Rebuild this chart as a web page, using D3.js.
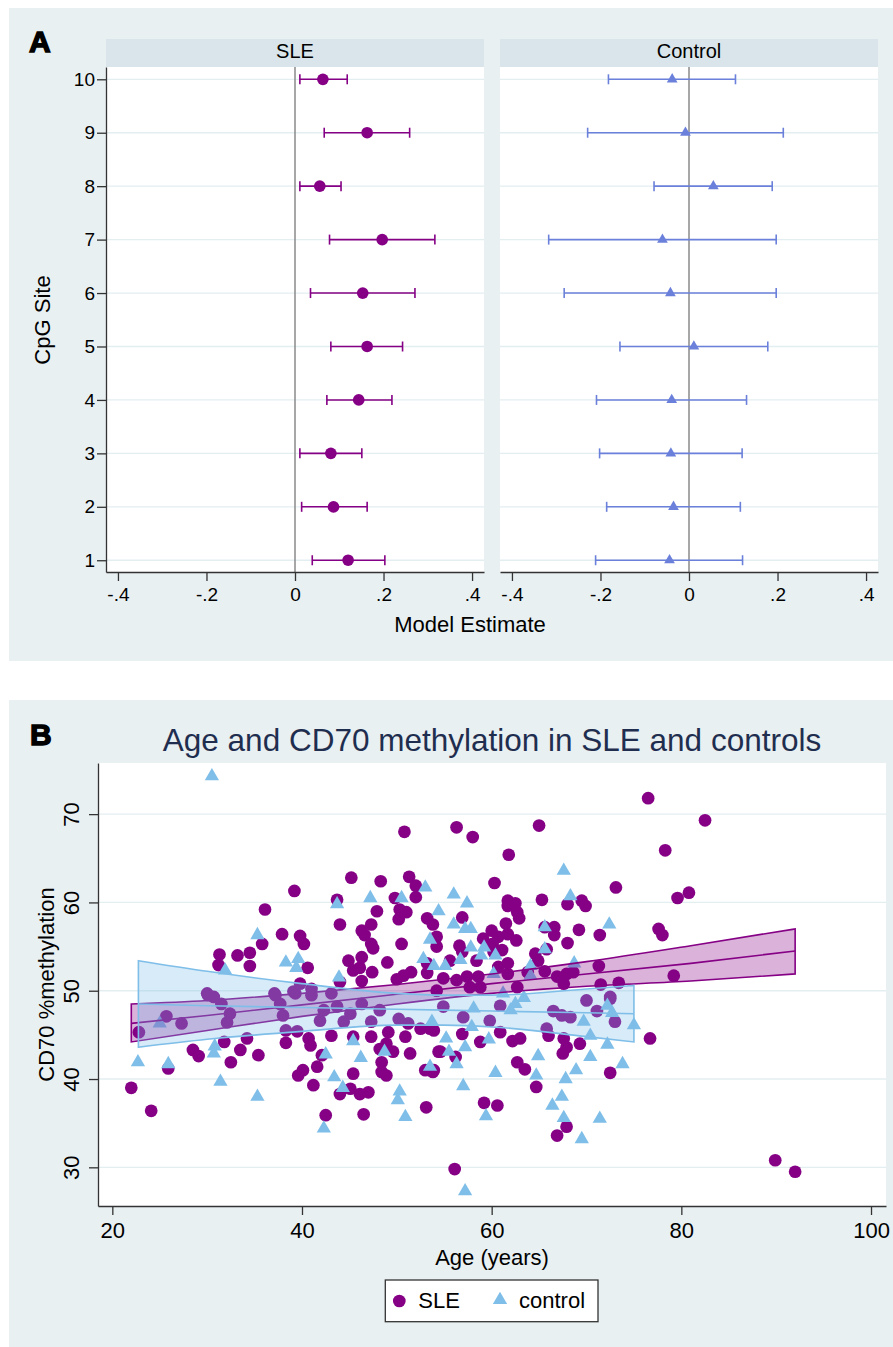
<!DOCTYPE html>
<html lang="en">
<head>
  <meta charset="UTF-8">
  <title>CD70 methylation in SLE and controls</title>
  <script src="https://cdn.jsdelivr.net/npm/d3@7"></script>
  <style>
    html, body {
      margin: 0;
      background-color: #ffffff;
    }
    svg {
      display: block;
      font-family: "Liberation Sans", Arial, Helvetica, sans-serif;
    }
  </style>
</head>
<body>
  <div id="chart"></div>
  <script>
    // panel A: model estimate per CpG site (with CI)
    const cpgSites = [1, 2, 3, 4, 5, 6, 7, 8, 9, 10]
    const sleEst = [0.120, 0.087, 0.081, 0.144, 0.163, 0.153, 0.197, 0.056, 0.163, 0.063]
    const sleLo = [0.039, 0.015, 0.011, 0.072, 0.081, 0.035, 0.078, 0.011, 0.066, 0.011]
    const sleHi = [0.203, 0.163, 0.151, 0.219, 0.243, 0.271, 0.316, 0.104, 0.259, 0.118]
    const ctrlEst = [-0.044, -0.035, -0.041, -0.039, 0.011, -0.042, -0.060, 0.055, -0.008, -0.038]
    const ctrlLo = [-0.211, -0.186, -0.202, -0.209, -0.156, -0.282, -0.317, -0.079, -0.229, -0.182]
    const ctrlHi = [0.121, 0.116, 0.120, 0.130, 0.178, 0.197, 0.197, 0.188, 0.213, 0.105]
    const estTicks = [-0.4, -0.2, 0, 0.2, 0.4]

    // panel B: age vs CD70 %methylation
    const sleAge = [22.0, 24.1, 22.8, 25.7, 25.9,
      50.8, 45.2, 48.3, 51.3, 52.0, 52.0, 49.8, 39.2, 43.7, 36.1, 47.9, 50.3, 51.0, 50.2, 44.0, 47.3, 46.3, 46.6, 53.2, 53.8,
      37.9, 39.8, 40.2, 35.8, 47.3, 47.5, 50.5, 31.3, 33.2, 34.5, 31.2, 34.5, 40.6, 44.9, 46.3, 49.0, 45.4, 46.1, 47.4, 46.3,
      50.0, 50.7, 51.5, 54.2, 54.2, 53.2, 53.2, 44.0, 39.8, 41.0, 37.1, 30.0, 30.7, 39.1,
      56.3, 58.0, 65.0, 61.8, 60.3, 73.1, 79.6, 80.8, 65.3, 61.7, 62.5, 62.7, 62.9, 61.7, 68.0, 69.5, 69.9, 56.9, 61.5, 60.0,
      65.6, 66.6, 66.6, 69.2, 71.4, 77.6, 78.0, 56.6, 59.1, 60.1, 60.7, 61.7, 62.6, 68.0, 55.6, 56.9, 60.2, 61.1, 58.4, 61.7,
      64.6, 65.8, 64.9, 65.6, 63.8, 61.7, 60.7, 57.4, 58.6, 56.3, 54.9, 71.3, 66.9, 67.9, 68.6, 67.6, 79.2, 71.5, 73.4, 72.5,
      58.8, 62.7, 57.7, 54.2,
      27.3, 28.5, 29.1, 31.8, 33.5, 34.2, 32.5, 35.4, 32.1, 32.4, 30.1, 31.5, 37.2, 37.7, 38.0, 38.3, 38.3, 39.5, 39.3, 41.0,
      40.7, 40.9, 42.1, 41.6, 40.1, 39.6, 41.2, 42.5, 41.9, 42.3, 43.1, 43.7, 45.1, 45.4, 46.3, 45.4, 45.1, 46.1, 47.0, 44.0,
      46.5, 47.3, 48.2, 48.9, 49.6, 48.4, 48.4, 48.9, 49.1, 47.3, 50.2, 50.9, 51.4, 51.2, 52.5, 53.5, 53.0, 53.9, 53.1, 54.4,
      48.2, 44.4, 43.1,
      76.7, 72.5, 64.7, 62.7, 63.5, 59.2, 60.6, 66.9, 67.9, 54.6, 56.2, 53.8, 58.8, 56.9, 60.9, 62.2, 63.0, 66.0, 67.6, 67.9,
      67.5, 69.3, 72.5, 73.0, 71.1, 70.0, 66.5, 67.4, 68.3, 65.8, 59.8, 60.9, 54.9, 53.9, 57.0,
      56.1, 89.9, 92.0, 76.5, 82.5, 78.3]
    const sleMeth = [39.0, 36.4, 45.3, 47.1, 41.2,
      68.0, 62.8, 62.4, 62.9, 61.9, 60.6, 60.5, 61.3, 60.3, 59.2, 59.0, 59.2, 58.9, 58.1, 57.5, 57.5, 56.8, 56.3, 58.2, 57.5,
      56.4, 56.2, 55.3, 55.3, 55.3, 54.8, 55.3, 54.1, 54.0, 54.3, 52.9, 52.8, 52.6, 53.4, 53.8, 53.2, 52.3, 52.6, 52.1, 51.1,
      51.3, 51.7, 52.1, 56.1, 55.0, 53.1, 52.0, 51.0, 50.8, 50.2, 49.7, 49.7, 49.3, 49.9,
      68.5, 67.4, 68.7, 65.4, 62.2, 61.7, 60.5, 61.1, 60.3, 60.2, 59.9, 58.9, 58.2, 59.6, 59.8, 60.2, 59.6, 58.3, 57.6, 56.8,
      57.2, 57.2, 56.3, 56.9, 56.3, 57.0, 56.3, 55.1, 55.9, 55.3, 56.1, 56.4, 55.7, 55.4, 53.4, 54.4, 54.4, 54.6, 53.4, 53.1,
      54.2, 54.7, 53.4, 52.2, 52.1, 51.9, 52.7, 51.6, 51.6, 51.2, 51.4, 52.8, 51.6, 51.9, 52.1, 50.8, 51.7, 50.7, 50.9, 49.3,
      50.4, 50.4, 50.4, 50.0,
      46.3, 43.3, 42.6, 44.2, 43.3, 44.6, 41.9, 42.7, 46.4, 47.4, 49.5, 48.5, 49.5, 48.5, 47.2, 45.5, 44.1, 45.4, 49.7, 49.5,
      44.6, 43.8, 42.7, 41.4, 41.0, 40.4, 39.3, 35.9, 46.6, 47.8, 44.9, 48.2, 47.4, 44.8, 48.5, 40.6, 38.9, 38.3, 38.5, 38.3,
      36.0, 44.8, 43.4, 44.0, 43.1, 41.9, 40.8, 40.4, 45.3, 46.5, 46.8, 44.8, 42.9, 46.3, 45.7, 45.7, 41.0, 41.0, 36.8, 43.1,
      47.8, 46.5, 49.7,
      44.6, 40.7, 39.1, 41.9, 41.1, 37.3, 37.0, 33.6, 34.6, 43.1, 42.5, 40.8, 44.2, 45.1, 45.3, 44.3, 44.6, 44.9, 44.6, 43.6,
      42.9, 44.0, 49.1, 46.5, 47.7, 48.9, 47.7, 47.2, 47.0, 45.7, 46.6, 48.3, 48.2, 45.5, 47.0,
      29.8, 30.8, 29.5, 71.8, 69.3, 65.9]
    const ctrlAge = [22.7, 25.0, 25.9, 30.5,
      35.3, 38.3, 39.6, 39.4, 31.9, 43.7, 47.2, 50.5, 53.0, 53.5, 52.8, 53.9, 43.9, 54.4,
      67.6, 56.0, 57.4, 68.3, 56.0, 57.2, 57.8, 65.6, 72.4, 57.8, 59.2, 58.9, 60.4, 65.6, 56.7, 55.1, 68.7, 60.2, 64.1, 64.1, 61.2,
      30.8, 30.7, 31.4, 35.3, 42.5, 43.4, 44.3, 42.3, 45.4, 46.2, 48.7, 50.3, 50.1, 50.9, 53.5, 53.7,
      55.2, 55.5, 57.2, 56.3, 57.0, 59.7, 60.4, 59.4, 64.9, 64.7, 67.8, 68.9, 67.4, 66.4, 67.6, 71.4, 69.5, 70.4, 72.2, 70.4,
      73.8, 75.0, 69.7, 72.2, 72.7, 57.9, 58.1, 62.0, 62.5, 63.4,
      57.2]
    const ctrlMeth = [41.9, 46.3, 41.7, 74.3,
      56.3, 53.2, 53.6, 52.6, 52.3, 59.8, 60.5, 60.5, 61.7, 55.8, 53.6, 52.8, 51.5, 59.0,
      63.6, 60.9, 59.9, 60.7, 57.5, 57.0, 57.0, 57.2, 57.5, 54.9, 54.9, 54.0, 54.0, 54.7, 53.5, 52.8, 53.1, 51.9, 52.8, 51.7, 49.7,
      43.7, 42.9, 39.7, 38.0, 42.8, 40.2, 39.0, 34.4, 44.3, 42.4, 43.1, 38.6, 37.6, 35.7, 41.4, 46.5,
      44.6, 43.1, 43.6, 41.7, 39.2, 44.5, 40.7, 35.8, 42.6, 40.4, 40.0, 41.0, 38.0, 37.0, 35.6, 35.5, 33.2, 42.5, 43.9, 44.9,
      41.7, 46.1, 46.5, 48.3, 47.5, 45.9, 48.0, 47.8, 48.5, 49.2,
      27.3]

    // linear fit with confidence band
    const sleFitAge = [22, 30, 40, 50, 60, 70, 81, 92]
    const sleFit = [46.3, 47.2, 48.4, 49.6, 50.8, 51.9, 53.1, 54.5]
    const sleFitLo = [44.2, 45.5, 47.1, 48.5, 49.7, 50.5, 51.1, 51.9]
    const sleFitHi = [48.5, 48.9, 49.7, 50.7, 51.9, 53.3, 55.1, 57.0]
    const ctrlFitAge = [22.75, 30, 40, 50, 55, 60, 70, 75]
    const ctrlFit = [48.5, 48.3, 48.1, 47.9, 47.8, 47.7, 47.5, 47.4]
    const ctrlFitLo = [43.6, 44.5, 45.4, 46.1, 46.1, 45.9, 44.8, 44.2]
    const ctrlFitHi = [53.4, 52.2, 50.8, 49.7, 49.5, 49.5, 50.2, 50.6]

    const ageTicks = [20, 40, 60, 80, 100]
    const methTicks = [30, 40, 50, 60, 70]
    const groupNames = ['SLE', 'control']

    const bgColor = '#e9f0f2'
    const stripColor = '#d9e5ea'
    const gridColor = '#e3eef1'
    const ink = '#333333'
    const purple = '#850085'
    const blueA = '#6b80da'
    const blueB = '#7ebee8'

    const svg = d3.select('#chart').append('svg')
      .attr('width', 893)
      .attr('height', 1347)

    const styleAxis = (g, size) => {
      g.attr('font-size', size).attr('font-family', null)
      g.selectAll('.domain, .tick line').attr('stroke', ink).attr('stroke-width', 1.3)
      g.selectAll('text').attr('fill', '#000')
    }

    const fmtEst = d => d === 0 ? '0' : (d < 0 ? '-' : '') + Math.abs(d).toFixed(1).slice(1)

    // ---------- panel A ----------
    svg.append('rect')
      .attr('x', 9).attr('y', 8).attr('width', 884).attr('height', 653)
      .attr('fill', bgColor)

    svg.append('text')
      .text('A')
      .attr('x', 29).attr('y', 51.7)
      .attr('font-size', 30).attr('font-weight', 900)
      .attr('stroke', '#000').attr('stroke-width', 1.4)

    const yA = d3.scaleLinear().domain([0.78, 10.23]).range([572, 67])

    const facets = [
      { name: 'SLE', est: sleEst, lo: sleLo, hi: sleHi, color: purple, symbol: d3.symbolCircle, size: 107, left: 106 },
      { name: 'Control', est: ctrlEst, lo: ctrlLo, hi: ctrlHi, color: blueA, symbol: d3.symbolTriangle, size: 50, left: 500 },
    ]

    facets.forEach((f, k) => {
      const x = d3.scaleLinear().domain([-0.427, 0.427]).range([f.left, f.left + 378])
      const g = svg.append('g')

      g.append('rect')
        .attr('x', f.left).attr('y', 39).attr('width', 378).attr('height', 28)
        .attr('fill', stripColor)
      g.append('text')
        .text(f.name)
        .attr('x', f.left + 189).attr('y', 58.3)
        .attr('text-anchor', 'middle')
        .attr('font-size', 20)
      g.append('rect')
        .attr('x', f.left).attr('y', 67).attr('width', 378).attr('height', 505)
        .attr('fill', '#ffffff')

      g.selectAll('.grid')
        .data(cpgSites)
        .enter()
        .append('line')
        .attr('x1', f.left).attr('x2', f.left + 378)
        .attr('y1', d => yA(d)).attr('y2', d => yA(d))
        .attr('stroke', gridColor).attr('stroke-width', 1.3)

      g.append('line')
        .attr('x1', x(0)).attr('x2', x(0))
        .attr('y1', 67).attr('y2', 572)
        .attr('stroke', '#8a8a8a').attr('stroke-width', 1.5)

      const bars = g.selectAll('.bar')
        .data(cpgSites)
        .enter()
        .append('g')
        .attr('stroke', f.color)
        .attr('stroke-width', 1.6)
      bars.append('line')
        .attr('x1', (d, i) => x(f.lo[i])).attr('x2', (d, i) => x(f.hi[i]))
        .attr('y1', d => yA(d)).attr('y2', d => yA(d))
      bars.append('line')
        .attr('x1', (d, i) => x(f.lo[i])).attr('x2', (d, i) => x(f.lo[i]))
        .attr('y1', d => yA(d) - 5).attr('y2', d => yA(d) + 5)
      bars.append('line')
        .attr('x1', (d, i) => x(f.hi[i])).attr('x2', (d, i) => x(f.hi[i]))
        .attr('y1', d => yA(d) - 5).attr('y2', d => yA(d) + 5)

      g.selectAll('.est')
        .data(cpgSites)
        .enter()
        .append('path')
        .attr('d', d3.symbol().type(f.symbol).size(f.size))
        .attr('transform', (d, i) => `translate(${x(f.est[i])},${yA(d)})`)
        .attr('fill', f.color)

      const xAxis = g.append('g')
        .attr('transform', 'translate(0,572)')
        .call(d3.axisBottom(x).tickValues(estTicks).tickFormat(fmtEst).tickSize(9).tickPadding(6.5).tickSizeOuter(0))
      styleAxis(xAxis, 19)

      if (k === 0) {
        const yAxis = g.append('g')
          .attr('transform', `translate(${f.left},0)`)
          .call(d3.axisLeft(yA).tickValues(cpgSites).tickFormat(d3.format('d')).tickSize(9).tickPadding(2).tickSizeOuter(0))
        styleAxis(yAxis, 19)
      }
    })

    svg.append('text')
      .text('CpG Site')
      .attr('transform', 'translate(50,320) rotate(-90)')
      .attr('text-anchor', 'middle')
      .attr('font-size', 22)

    svg.append('text')
      .text('Model Estimate')
      .attr('x', 470).attr('y', 631.7)
      .attr('text-anchor', 'middle')
      .attr('font-size', 22)

    // ---------- panel B ----------
    svg.append('rect')
      .attr('x', 9).attr('y', 700).attr('width', 884).attr('height', 647)
      .attr('fill', bgColor)

    svg.append('text')
      .text('B')
      .attr('x', 30).attr('y', 745)
      .attr('font-size', 30).attr('font-weight', 900)
      .attr('stroke', '#000').attr('stroke-width', 1.4)

    svg.append('text')
      .text('Age and CD70 methylation in SLE and controls')
      .attr('x', 492).attr('y', 751)
      .attr('text-anchor', 'middle')
      .attr('font-size', 31.5)
      .attr('fill', '#1f2e4f')

    const xB = d3.scaleLinear().domain([18.49, 101.58]).range([98, 886])
    const yB = d3.scaleLinear().domain([25.62, 75.79]).range([1206, 763])

    svg.append('rect')
      .attr('x', 98).attr('y', 763).attr('width', 788).attr('height', 443)
      .attr('fill', '#ffffff')

    svg.selectAll('.gridB')
      .data(methTicks)
      .enter()
      .append('line')
      .attr('x1', 98).attr('x2', 886)
      .attr('y1', d => yB(d)).attr('y2', d => yB(d))
      .attr('stroke', gridColor).attr('stroke-width', 1.3)

    svg.append('g')
      .selectAll('path')
      .data(sleAge)
      .enter()
      .append('path')
      .attr('d', d3.symbol().type(d3.symbolCircle).size(127))
      .attr('transform', (d, i) => `translate(${xB(d)},${yB(sleMeth[i])})`)
      .attr('fill', purple)

    svg.append('g')
      .selectAll('path')
      .data(ctrlAge)
      .enter()
      .append('path')
      .attr('d', d3.symbol().type(d3.symbolTriangle).size(88))
      .attr('transform', (d, i) => `translate(${xB(d)},${yB(ctrlMeth[i])})`)
      .attr('fill', blueB)

    const drawBand = (ages, fit, lo, hi, color) => {
      const pts = ages.map((a, i) => ({ a, fit: fit[i], lo: lo[i], hi: hi[i] }))
      const area = d3.area()
        .x(d => xB(d.a)).y0(d => yB(d.lo)).y1(d => yB(d.hi))
        .curve(d3.curveMonotoneX)
      const line = d3.line()
        .x(d => xB(d.a)).y(d => yB(d.fit))
      svg.append('path')
        .attr('d', area(pts))
        .attr('fill', color).attr('fill-opacity', 0.3)
        .attr('stroke', color).attr('stroke-width', 1.6)
      svg.append('path')
        .attr('d', line(pts))
        .attr('fill', 'none')
        .attr('stroke', color).attr('stroke-width', 1.6)
    }
    drawBand(sleFitAge, sleFit, sleFitLo, sleFitHi, purple)
    drawBand(ctrlFitAge, ctrlFit, ctrlFitLo, ctrlFitHi, blueB)

    const xAxisB = svg.append('g')
      .attr('transform', 'translate(0,1206)')
      .call(d3.axisBottom(xB).tickValues(ageTicks).tickSize(9).tickPadding(7.5).tickSizeOuter(0))
    styleAxis(xAxisB, 22)

    const yAxisB = svg.append('g')
      .attr('transform', 'translate(98,0)')
      .call(d3.axisLeft(yB).tickValues(methTicks).tickSize(9).tickSizeOuter(0))
    styleAxis(yAxisB, 22)
    yAxisB.selectAll('text')
      .attr('x', 0).attr('y', -18.7).attr('dy', 0)
      .attr('transform', 'rotate(-90)')
      .attr('text-anchor', 'middle')

    svg.append('text')
      .text('CD70 %methylation')
      .attr('transform', 'translate(54.3,984.5) rotate(-90)')
      .attr('text-anchor', 'middle')
      .attr('font-size', 22)

    svg.append('text')
      .text('Age (years)')
      .attr('x', 492).attr('y', 1265)
      .attr('text-anchor', 'middle')
      .attr('font-size', 22)

    // legend
    const legend = svg.append('g')
    legend.append('rect')
      .attr('x', 385.3).attr('y', 1280).attr('width', 212.7).attr('height', 41.7)
      .attr('fill', '#ffffff').attr('stroke', ink).attr('stroke-width', 1.3)
    const legendItems = [
      { label: groupNames[0], symbol: d3.symbolCircle, size: 127, color: purple, mx: 399.3, my: 1301, tx: 418.3 },
      { label: groupNames[1], symbol: d3.symbolTriangle, size: 88, color: blueB, mx: 500, my: 1300, tx: 519 },
    ]
    legendItems.forEach(item => {
      legend.append('path')
        .attr('d', d3.symbol().type(item.symbol).size(item.size))
        .attr('transform', `translate(${item.mx},${item.my})`)
        .attr('fill', item.color)
      legend.append('text')
        .text(item.label)
        .attr('x', item.tx).attr('y', 1308.3)
        .attr('font-size', 22)
    })
  </script>
</body>
</html>
